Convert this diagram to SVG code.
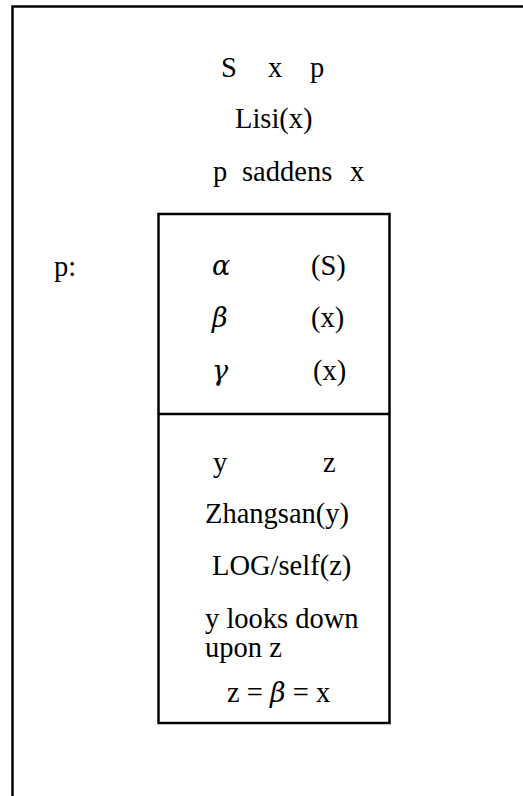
<svg xmlns="http://www.w3.org/2000/svg" width="523" height="796" viewBox="0 0 523 796">
<style>
.t{font-family:"Liberation Serif","Times New Roman",serif;font-size:28.5px;fill:#000}
.g{font-family:"DejaVu Serif","Liberation Serif",serif;font-style:italic;font-size:27px;fill:#000}
.box{fill:none;stroke:#000;stroke-width:2.5}
</style>
<rect width="523" height="796" fill="#fff"/>
<g id="outer">
<path class="box" d="M12.5,800 V6.5 H530" stroke-width="2"/>
<text class="t" x="221" y="77">S</text>
<text class="t" x="268" y="77">x</text>
<text class="t" x="310" y="77">p</text>
<text class="t" x="235" y="128">Lisi(x)</text>
<text class="t" x="213" y="181">p</text>
<text class="t" x="242" y="181">saddens</text>
<text class="t" x="350" y="181">x</text>
<text class="t" x="54" y="276">p:</text>
</g>
<g id="box">
<rect class="box" x="158.5" y="214" width="231" height="509"/>
<line class="box" x1="158.5" y1="414" x2="389.5" y2="414"/>
</g>
<g id="upper">
<text class="g" x="212" y="275">α</text>
<text class="t" x="311" y="275">(S)</text>
<text class="g" x="212" y="327">β</text>
<text class="t" x="311" y="327">(x)</text>
<text class="g" x="212" y="380">γ</text>
<text class="t" x="313" y="380">(x)</text>
</g>
<g id="lower">
<text class="t" x="213" y="472">y</text>
<text class="t" x="323" y="472">z</text>
<text class="t" x="205" y="523">Zhangsan(y)</text>
<text class="t" x="212" y="575">LOG/self(z)</text>
<text class="t" x="205" y="628">y looks down</text>
<text class="t" x="205" y="657">upon z</text>
<text class="t" x="227" y="702">z = <tspan class="g">β</tspan> = x</text>
</g>
</svg>
